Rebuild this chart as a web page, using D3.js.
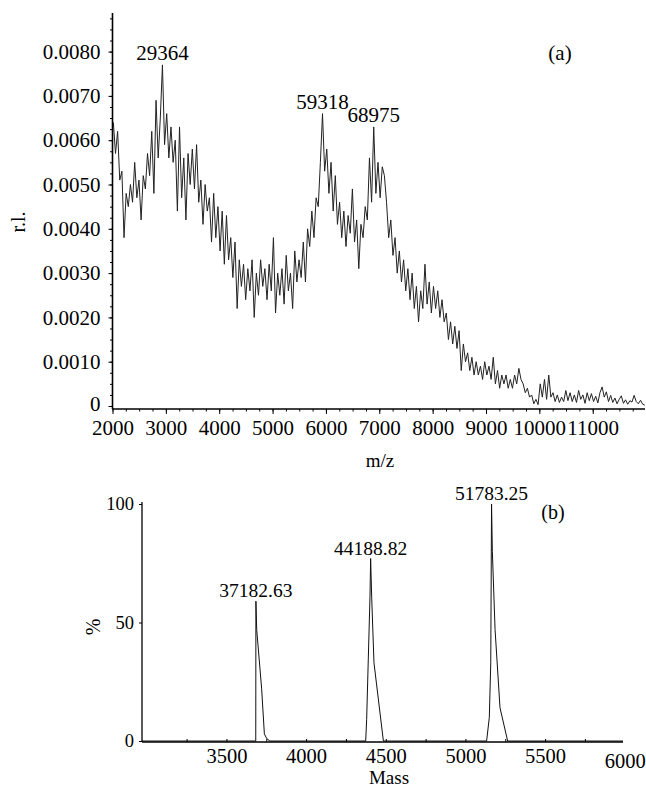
<!doctype html>
<html>
<head>
<meta charset="utf-8" />
<title>Mass spectrum (a) and deconvoluted masses (b)</title>
<script src="https://cdnjs.cloudflare.com/ajax/libs/d3/7.8.5/d3.min.js"></script>
<style>
  body { margin:0; background:#fff; }
  svg { display:block; font-family:"Liberation Serif","Times New Roman",serif; }
</style>
</head>
<body>
<div id="chart"></div>
<script>
/*panel (a): raw spectrum, r.l. x 1e-4, one value every 40 m/z starting at 2016*/
var mz_start = 2016, mz_step = 40;
var intensity = [
  64,57,62,51,53,38,48,45,50,46,
  55,47,51,42,52,49,57,52,62,48,
  69,56,65,77,59,66,56,63,55,60,
  44,63,47,56,42,57,50,58,49,59,
  46,51,41,50,44,47,37,48,38,45,
  35,44,32,43,33,38,29,37,22,33,
  27,32,24,31,26,33,20,30,25,33,
  27,31,24,32,26,38,21,30,25,31,
  23,34,26,30,22,35,28,33,29,37,
  28,40,36,44,38,47,45,55,66,53,
  58,48,55,44,52,41,46,38,44,36,
  43,39,49,37,42,31,41,38,45,42,
  56,46,63,48,55,47,54,52,46,38,
  42,34,38,30,35,28,33,26,31,24,
  30,22,27,19,26,22,32,23,28,21,
  27,22,26,20,24,19,21,15,19,14,
  18,13,17,8,14,10,12,8,11,7,
  10,7,9,6,10,7,9,6,11,5,
  8,4,7,5,7,4,6,4,7,5,
  8.5,6,5,3,4,2,2.5,0.5,1.5,0.3,
  5,2,6,1.5,7,2,3,1,2.5,0.8,
  2,1,3.5,1.2,3,1,2.5,0.8,3.5,1.5,
  2.5,0.6,3,1.2,2.8,1,2.2,0.7,3,4.3,
  2,3.2,1,2.4,0.8,1.8,0.5,1.5,2.3,0.6,
  1.4,0.4,1.2,0.9,2.4,1,0.5,1.3,0.4,0.2
];
var peak_mz_a = [2936, 5936, 6896];
var peak_label_a = ["29364", "59318", "68975"];
var ticks_a_x = [2000,3000,4000,5000,6000,7000,8000,9000,10000,11000];
var ticks_a_y = [0,0.001,0.002,0.003,0.004,0.005,0.006,0.007,0.008];

/*panel (b): deconvoluted mass spectrum, % of base peak*/
var mass_b = [2970,3684,3685,3690,3721,3738,3753,3773,
              4374,4380,4401,4405,4412,4426,4485,
              5133,5150,5159,5164,5169,5186,5217,5265,5989];
var pct_b  = [0,0,59,47,22,3,1,0,
              0,9,61,77,60,33,0,
              0,10,33,100,80,47,14,0,0];
var peak_mass_b = [3685, 4405, 5164];
var peak_label_b = ["37182.63", "44188.82", "51783.25"];
var ticks_b_x = [3500,4000,4500,5000,5500,6000];
var ticks_b_y = [0,50,100];

var serif = '"Liberation Serif","Times New Roman",serif';

function main() {
  var svg = d3.select("#chart").append("svg")
    .attr("width", 646).attr("height", 791);

  draw_panel_a(svg);
  draw_panel_b(svg);
}

function style_axis(g, size) {
  g.attr("font-family", serif).attr("font-size", size);
  g.selectAll("line").attr("stroke", "#000");
  g.selectAll("text").attr("fill", "#000");
}

function draw_panel_a(svg) {
  var x = d3.scaleLinear().domain([2000, 11980]).range([112.5, 645]);
  var y = d3.scaleLinear().domain([0, 0.008]).range([406, 51.6]);
  var axis_y = 409, y_top = 0.00887;
  var g = svg.append("g");

  var spec = intensity.map(function(v, i) {
    return {mz: mz_start + i * mz_step, v: v / 1e4};
  });

  g.append("path").datum(spec)
    .attr("fill", "none")
    .attr("stroke", "#222")
    .attr("stroke-width", 1)
    .attr("stroke-linejoin", "round")
    .attr("d", d3.line().x(function(d) { return x(d.mz); }).y(function(d) { return y(d.v); }));

  /*minor ticks first, then labelled ones*/
  var gxm = g.append("g").attr("transform", "translate(0," + axis_y + ")")
    .call(d3.axisBottom(x).tickValues(d3.range(2000, 11980, 250)).tickSize(2.5).tickFormat(""));
  gxm.select(".domain").remove();
  style_axis(gxm, 21);

  var gx = g.append("g").attr("transform", "translate(0," + axis_y + ")")
    .call(d3.axisBottom(x).tickValues(ticks_a_x).tickSize(5).tickPadding(6).tickFormat(d3.format("d")));
  gx.select(".domain").remove();
  style_axis(gx, 21);

  var gym = g.append("g").attr("transform", "translate(112.5,0)")
    .call(d3.axisLeft(y).tickValues(d3.range(0, 0.00880, 0.00025)).tickSize(2.5).tickFormat(""));
  gym.select(".domain").remove();
  style_axis(gym, 21);

  var gy = g.append("g").attr("transform", "translate(112.5,0)")
    .call(d3.axisLeft(y).tickValues(ticks_a_y).tickSize(4).tickPadding(8)
      .tickFormat(function(d) { return d === 0 ? "0" : d3.format(".4f")(d); }));
  gy.select(".domain").remove();
  style_axis(gy, 21);
  gy.selectAll(".tick text").filter(function(d) { return d === 0; }).attr("dy", "0.2em");

  /*axis lines*/
  g.append("line").attr("x1", 112.5).attr("x2", 645).attr("y1", axis_y).attr("y2", axis_y)
    .attr("stroke", "#000").attr("stroke-width", 1.6);
  g.append("line").attr("x1", 112.5).attr("x2", 112.5).attr("y1", axis_y).attr("y2", y(y_top))
    .attr("stroke", "#000").attr("stroke-width", 1.6);

  /*peak labels*/
  g.selectAll("text.peak").data(peak_mz_a).enter().append("text")
    .attr("class", "peak")
    .attr("x", function(d) { return x(d); })
    .attr("y", function(d) { return y(spec[Math.round((d - mz_start) / mz_step)].v) - 5; })
    .attr("text-anchor", "middle")
    .attr("font-size", 21)
    .text(function(d, i) { return peak_label_a[i]; });

  g.append("text").attr("x", 560).attr("y", 60).attr("text-anchor", "middle")
    .attr("font-size", 21).text("(a)");

  g.append("text").attr("transform", "translate(25,222) rotate(-90)")
    .attr("text-anchor", "middle").attr("font-size", 20).text("r.l.");

  g.append("text").attr("x", 380).attr("y", 467).attr("text-anchor", "middle")
    .attr("font-size", 19).text("m/z");
}

function draw_panel_b(svg) {
  var x = d3.scaleLinear().domain([2970, 5989]).range([142, 623]);
  var y = d3.scaleLinear().domain([0, 100]).range([741, 504]);
  var axis_y = 742;
  var g = svg.append("g");

  var pts = mass_b.map(function(m, i) { return {m: m, p: pct_b[i]}; });

  g.append("path").datum(pts)
    .attr("fill", "none")
    .attr("stroke", "#111")
    .attr("stroke-width", 1)
    .attr("d", d3.line().x(function(d) { return x(d.m); }).y(function(d) { return y(d.p); }));

  var gxm = g.append("g").attr("transform", "translate(0," + axis_y + ")")
    .call(d3.axisBottom(x).tickValues(d3.range(3250, 6000, 250)).tickSizeInner(-3).tickSizeOuter(0).tickFormat(""));
  gxm.select(".domain").remove();
  style_axis(gxm, 20);

  var gx = g.append("g").attr("transform", "translate(0," + axis_y + ")")
    .call(d3.axisBottom(x).tickValues(ticks_b_x).tickSize(0).tickPadding(6).tickFormat(d3.format("d")));
  gx.select(".domain").remove();
  style_axis(gx, 20.5);
  gx.selectAll(".tick text").filter(function(d) { return d === 6000; }).attr("y", 11);

  var gy = g.append("g").attr("transform", "translate(142,0)")
    .call(d3.axisLeft(y).tickValues(ticks_b_y).tickSize(3).tickPadding(5));
  gy.select(".domain").remove();
  style_axis(gy, 18.5);

  g.append("line").attr("x1", 142).attr("x2", 623).attr("y1", axis_y).attr("y2", axis_y)
    .attr("stroke", "#000").attr("stroke-width", 1.3);
  g.append("line").attr("x1", 142).attr("x2", 142).attr("y1", axis_y).attr("y2", 502)
    .attr("stroke", "#000").attr("stroke-width", 1.3);

  g.selectAll("text.peak").data(peak_mass_b).enter().append("text")
    .attr("class", "peak")
    .attr("x", function(d) { return x(d); })
    .attr("y", function(d) { return y(pct_b[mass_b.indexOf(d)]) - 4; })
    .attr("text-anchor", "middle")
    .attr("font-size", 19.5)
    .text(function(d, i) { return peak_label_b[i]; });

  g.append("text").attr("x", 553).attr("y", 519).attr("text-anchor", "middle")
    .attr("font-size", 20).text("(b)");

  g.append("text").attr("transform", "translate(100,627) rotate(-90)")
    .attr("text-anchor", "middle").attr("font-size", 20).text("%");

  g.append("text").attr("x", 389).attr("y", 784).attr("text-anchor", "middle")
    .attr("font-size", 19).text("Mass");
}

document.addEventListener("DOMContentLoaded", main);
</script>
</body>
</html>
